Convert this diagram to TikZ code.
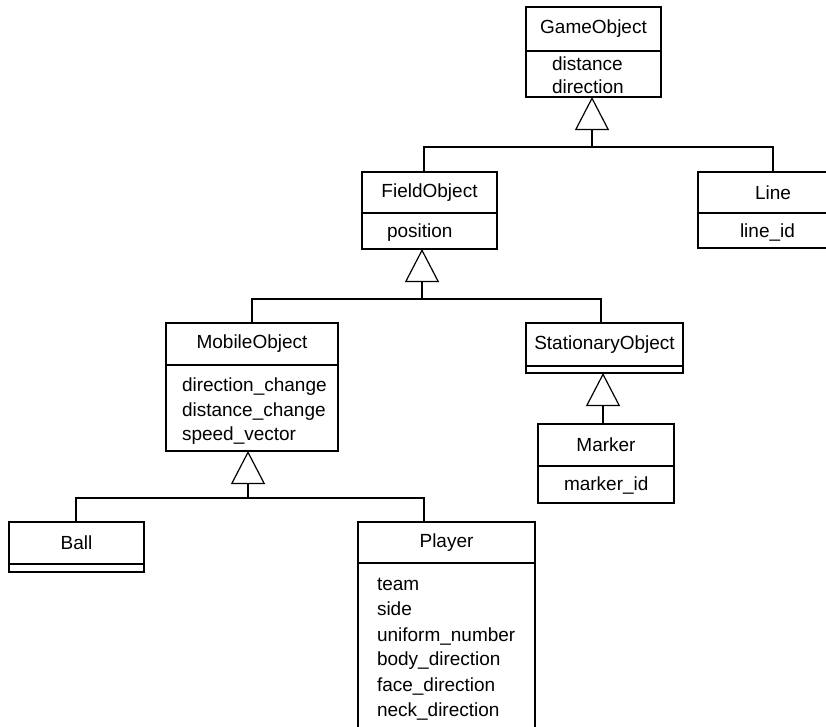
\documentclass[tikz,border=0pt]{standalone}
\usepackage{fontspec}
\setmainfont{Liberation Sans}
\usetikzlibrary{arrows.meta}
\tikzset{
  hdr/.style={draw, line width=1.2pt, inner sep=0pt, outer sep=0pt, anchor=north west,
    font=\fontsize{19}{23}\selectfont},
  cmp/.style={draw, line width=1.2pt, inner sep=0pt, outer sep=0pt, anchor=north},
  att/.style={inner sep=0pt, outer sep=0pt, anchor=base west, font=\fontsize{19}{23}\selectfont},
  conn/.style={line width=1.2pt},
  gen/.style={line width=1.2pt, -{Triangle[open, length=33pt, width=34pt]}},
}
\begin{document}
\begin{tikzpicture}[x=1pt,y=-1pt]
\useasboundingbox (0,0) rectangle (826,726);
\clip (0,0) rectangle (826,726);
\fill[white] (0,0) rectangle (826,726);

% GameObject
\node[hdr, minimum width=135pt, minimum height=44pt] (goT) at (526,7) {GameObject};
\node[cmp, minimum width=135pt, minimum height=46pt] (goA) at (goT.south) {};
\node[att] (go1) at (552,70) {distance};
\node[att] (go2) at (552,93) {direction};

% FieldObject
\node[hdr, minimum width=135pt, minimum height=41pt] (flT) at (362,172) {FieldObject};
\node[cmp, minimum width=135pt, minimum height=36pt] (flA) at (flT.south) {};
\node[att] (fl1) at (387,237) {position};

% Line
\node[hdr, minimum width=150pt, minimum height=41pt] (lnT) at (698,172) {Line};
\node[cmp, minimum width=150pt, minimum height=35pt] (lnA) at (lnT.south) {};
\node[att] (ln1) at (740,237) {line\_id};

% MobileObject
\node[hdr, minimum width=172pt, minimum height=42pt] (moT) at (166,323) {MobileObject};
\node[cmp, minimum width=172pt, minimum height=86pt] (moA) at (moT.south) {};
\node[att] (mo1) at (182,391) {direction\_change};
\node[att] (mo2) at (182,416) {distance\_change};
\node[att] (mo3) at (182,440) {speed\_vector};

% StationaryObject
\node[hdr, minimum width=157pt, minimum height=43pt] (soT) at (526,323) {StationaryObject};
\node[cmp, minimum width=157pt, minimum height=7pt] (soA) at (soT.south) {};

% Marker
\node[hdr, minimum width=136pt, minimum height=42pt] (mkT) at (538,424) {Marker};
\node[cmp, minimum width=136pt, minimum height=37pt] (mkA) at (mkT.south) {};
\node[att] (mk1) at (564,490) {marker\_id};

% Ball
\node[hdr, minimum width=135pt, minimum height=42pt] (baT) at (9,522) {Ball};
\node[cmp, minimum width=135pt, minimum height=8pt] (baA) at (baT.south) {};

% Player
\node[hdr, minimum width=177pt, minimum height=41pt] (plT) at (358,522) {Player};
\node[cmp, minimum width=177pt, minimum height=177pt] (plA) at (plT.south) {};
\node[att] (pl1) at (377,590) {team};
\node[att] (pl2) at (377,615) {side};
\node[att] (pl3) at (377,641) {uniform\_number};
\node[att] (pl4) at (377,665) {body\_direction};
\node[att] (pl5) at (377,691) {face\_direction};
\node[att] (pl6) at (377,716) {neck\_direction};

% Generalization: GameObject
\coordinate (g1) at (592,147);
\coordinate (g1L) at (424,147);
\coordinate (g1R) at (773,147);
\draw[gen] (g1) -- (g1 |- goA.south);
\draw[conn] (g1L |- flT.north) -- (g1L) -- (g1R) -- (g1R |- lnT.north);

% Generalization: FieldObject
\coordinate (g2) at (422,299);
\coordinate (g2L) at (252,299);
\coordinate (g2R) at (601,299);
\draw[gen] (g2) -- (g2 |- flA.south);
\draw[conn] (g2L |- moT.north) -- (g2L) -- (g2R) -- (g2R |- soT.north);

% Generalization: StationaryObject
\coordinate (g3) at (603,424);
\draw[gen] (g3 |- mkT.north) -- (g3 |- soA.south);

% Generalization: MobileObject
\coordinate (g4) at (248,498);
\coordinate (g4L) at (76,498);
\coordinate (g4R) at (424,498);
\draw[gen] (g4) -- (g4 |- moA.south);
\draw[conn] (g4L |- baT.north) -- (g4L) -- (g4R) -- (g4R |- plT.north);
\end{tikzpicture}
\end{document}
